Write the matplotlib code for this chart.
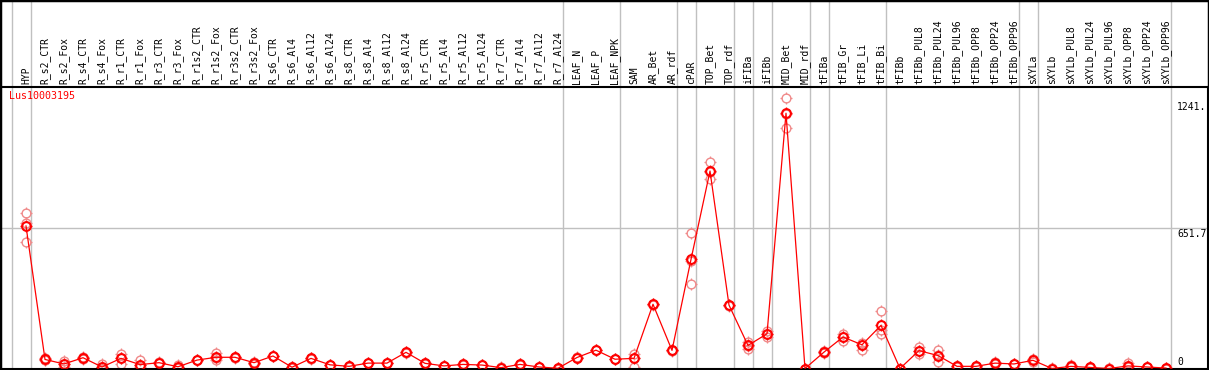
import numpy as np
import matplotlib
matplotlib.use("Agg")
import matplotlib.pyplot as plt
from matplotlib.path import Path
from matplotlib.patches import Rectangle
from matplotlib.transforms import blended_transform_factory

# sample names (columns)
samples = ["HYP", "R_s2_CTR", "R_s2_Fox", "R_s4_CTR", "R_s4_Fox", "R_r1_CTR", "R_r1_Fox",
           "R_r3_CTR", "R_r3_Fox", "R_r1s2_CTR", "R_r1s2_Fox", "R_r3s2_CTR", "R_r3s2_Fox",
           "R_s6_CTR", "R_s6_Al4", "R_s6_Al12", "R_s6_Al24", "R_s8_CTR", "R_s8_Al4",
           "R_s8_Al12", "R_s8_Al24", "R_r5_CTR", "R_r5_Al4", "R_r5_Al12", "R_r5_Al24",
           "R_r7_CTR", "R_r7_Al4", "R_r7_Al12", "R_r7_Al24", "LEAF_N", "LEAF_P", "LEAF_NPK",
           "SAM", "AR_Bet", "AR_rdf", "cPAR", "TOP_Bet", "TOP_rdf", "iFIBa", "iFIBb",
           "MID_Bet", "MID_rdf", "tFIBa", "tFIB_Gr", "tFIB_Li", "tFIB_Bi", "tFIBb",
           "tFIBb_PUL8", "tFIBb_PUL24", "tFIBb_PUL96", "tFIBb_OPP8", "tFIBb_OPP24",
           "tFIBb_OPP96", "sXYLa", "sXYLb", "sXYLb_PUL8", "sXYLb_PUL24", "sXYLb_PUL96",
           "sXYLb_OPP8", "sXYLb_OPP24", "sXYLb_OPP96"]

# mean expression
mean_expr = [661, 42, 21, 50, 7, 47, 18, 27, 8, 39, 52, 52, 27, 58, 6, 47, 17, 10, 25, 25,
             75, 24, 12, 19, 16, 4, 19, 7, 1, 51, 85, 43, 47, 298, 84, 506, 916, 294, 107, 161,
             1184, 0, 76, 146, 110, 200, 0, 83, 60, 10, 10, 25, 21, 38, 0, 10, 5, 0, 12, 7, 2]

# replicates
rep1 = [721, 48, 35, 55, 21, 69, 41, 29, 14, 40, 70, 53, 30, 60, 8, 48, 18, 11, 26, 26,
        77, 25, 13, 20, 17, 5, 20, 8, 2, 52, 86, 44, 66, 300, 86, 627, 958, 296, 121, 174,
        1255, 0, 80, 159, 120, 267, 0, 100, 84, 11, 11, 30, 22, 45, 1, 14, 9, 1, 24, 8, 4]
rep2 = [587, 38, 7, 45, 0, 22, 8, 25, 4, 38, 38, 51, 22, 56, 4, 46, 16, 9, 24, 24,
        73, 23, 11, 18, 15, 3, 18, 6, 0, 50, 84, 42, 8, 296, 82, 390, 877, 292, 89, 145,
        1114, 0, 70, 129, 86, 160, 0, 67, 30, 9, 9, 20, 20, 30, 0, 8, 2, 0, 6, 6, 0]
rep3 = [673, 41, 20, 50, 6, 48, 17, 27, 7, 39, 50, 52, 26, 58, 6, 47, 17, 10, 25, 25,
        75, 24, 12, 19, 16, 4, 19, 7, 1, 51, 85, 43, 47, 298, 84, 500, 912, 294, 106, 160,
        1180, 0, 77, 147, 111, 180, 0, 83, 62, 10, 10, 25, 21, 38, 0, 10, 5, 0, 12, 7, 2]

# columns after which a group separator is drawn (-1 = before first)
group_ends = [-1, 0, 28, 31, 34, 35, 37, 38, 39, 41, 42, 45, 52, 53, 60]

y_labels = [1241.0, 651.7, 0]
y_label_txt = ["1241.", "651.7", "0"]
gene = "Lus10003195"

W, H = 1209, 370
fig = plt.figure(figsize=(W / 100, H / 100), dpi=100)
ax = fig.add_axes([0, (H - 368.5) / H, 1208 / W, (368.5 - 87) / H])

x = np.arange(len(samples))
ax.set_xlim(-26 / 19, (1208 - 26) / 19)
ax.set_ylim(0, 651.7 * 281.5 / 140.5)

# small ticks around each circle, like the original markers
ticks = Path([(0, 0.7), (0, 1), (0, -0.7), (0, -1), (0.7, 0), (1, 0), (-0.7, 0), (-1, 0)],
             [Path.MOVETO, Path.LINETO] * 4)

grid_c = "#c0c0c0"
ax.axhline(651.7, color=grid_c, lw=1, zorder=0)
trans = blended_transform_factory(ax.transData, fig.transFigure)
for g in group_ends:
    ax.plot([g + 0.25, g + 0.25], [0, 1], color=grid_c, lw=1, transform=trans,
            clip_on=False, zorder=0)

pink = "#f08a8a"
for r in (rep1, rep2, rep3):
    ax.plot(x, r, ls="none", marker="o", ms=6.3, mfc="none", mec=pink, mew=1.0, zorder=2)
    ax.plot(x, r, ls="none", marker=ticks, ms=8.3, mec=pink, mew=0.9, zorder=2)
ax.plot(x, mean_expr, color="red", lw=0.9, zorder=3)
ax.plot(x, mean_expr, ls="none", marker="o", ms=6.3, mfc="none", mec="red", mew=1.5, zorder=4)
ax.plot(x, mean_expr, ls="none", marker=ticks, ms=8.3, mec="red", mew=1.0, zorder=4)

ax.set_xticks([])
ax.set_yticks([])
for s in ax.spines.values():
    s.set_color("black")
    s.set_linewidth(1.5)

# header labels
for i, s in enumerate(samples):
    ax.text(i, (H - 84) / H, s, transform=trans, rotation=90, ha="center", va="bottom",
            fontsize=7, family="DejaVu Sans Mono", clip_on=False)

# value labels on the right
ytr = blended_transform_factory(fig.transFigure, ax.transData)
for v, t in zip(y_labels, y_label_txt):
    va = "bottom" if v == 0 else "top"
    ax.text(1177 / W, v + (8 if v == 0 else -4), t, transform=ytr, ha="left", va=va,
            fontsize=7, family="DejaVu Sans Mono")

fig.text(9 / W, 1 - 91 / H, gene, color="red", ha="left", va="top", fontsize=7.2,
         family="DejaVu Sans Mono")

fig.add_artist(Rectangle((0, 0), 1, 1, transform=fig.transFigure, fill=False,
                         edgecolor="black", lw=2.5))

fig.savefig("out.png", dpi=100)
